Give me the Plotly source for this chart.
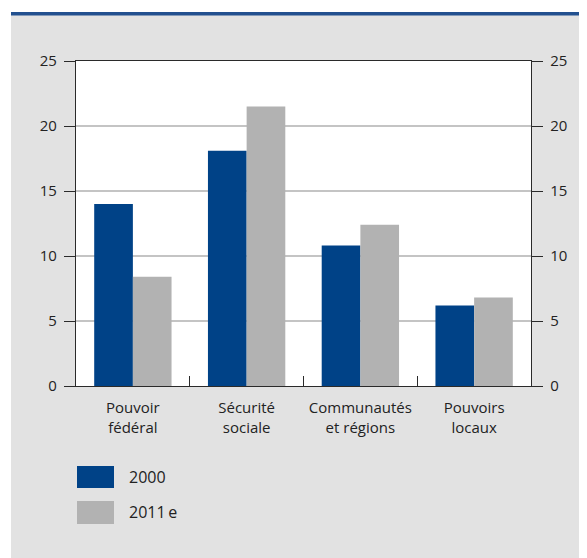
import plotly.graph_objects as go

categories = ["Pouvoir<br>fédéral", "Sécurité<br>sociale", "Communautés<br>et régions", "Pouvoirs<br>locaux"]
series_names = ["2000", "2011\u2009e"]
values_2000 = [14.0, 18.1, 10.8, 6.2]
values_2011 = [8.4, 21.5, 12.4, 6.8]
y_ticks = [0, 5, 10, 15, 20, 25]

BLUE = "#004287"
GREY = "#b2b2b2"
BG = "#e2e2e2"
AX = "#2a2a2a"
FONT = "Open Sans"

fig = go.Figure()
fig.add_trace(go.Bar(x=categories, y=values_2000, name=series_names[0], marker_color=BLUE,
                     marker_line_width=0, hoverinfo="skip"))
fig.add_trace(go.Bar(x=categories, y=values_2011, name=series_names[1], marker_color=GREY,
                     marker_line_width=0, hoverinfo="skip"))
# invisible trace to activate right axis
fig.add_trace(go.Scatter(x=categories, y=values_2000, yaxis="y2", mode="none",
                         showlegend=False, hoverinfo="skip"))

O = 8  # browser body margin
W, H = 587 - O, 558 - O
L, R, T, B = 76 - O, 531 - O, 61 - O, 386 - O

def px(x):
    return (x - O - L) / (R - L)

def py(y):
    return (B - (y - O)) / (B - T)

shapes = [
    dict(type="rect", xref="paper", yref="paper", x0=px(0), x1=px(11), y0=py(560), y1=py(0),
         fillcolor="white", line_width=0, layer="above"),
    dict(type="rect", xref="paper", yref="paper", x0=px(0), x1=px(590), y0=py(12), y1=py(0),
         fillcolor="white", line_width=0, layer="above"),
    dict(type="rect", xref="paper", yref="paper", x0=px(11), x1=px(590), y0=py(15.5), y1=py(12),
         fillcolor="#22508f", line_width=0, layer="above"),
    dict(type="rect", xref="paper", yref="paper", x0=px(77), x1=px(114), y0=py(488), y1=py(466),
         fillcolor=BLUE, line_width=0, layer="above"),
    dict(type="rect", xref="paper", yref="paper", x0=px(77), x1=px(114), y0=py(524), y1=py(501),
         fillcolor=GREY, line_width=0, layer="above"),
]
annotations = [
    dict(xref="paper", yref="paper", x=px(127), y=py(477), text=series_names[0], showarrow=False,
         xanchor="left", yanchor="middle", font=dict(family=FONT, size=16, color="#222")),
    dict(xref="paper", yref="paper", x=px(127), y=py(512), text=series_names[1], showarrow=False,
         xanchor="left", yanchor="middle", font=dict(family=FONT, size=16, color="#222")),
]

tf = dict(family=FONT, size=15, color="#222")
fig.update_layout(
    width=W, height=H,
    margin=dict(l=L, r=W - R, t=T, b=H - B),
    paper_bgcolor=BG, plot_bgcolor="white",
    barmode="group", bargap=0.32, bargroupgap=0,
    showlegend=False,
    font=dict(family=FONT, size=15, color="#222"),
    shapes=shapes, annotations=annotations,
    xaxis=dict(type="category", showline=True, linecolor=AX, linewidth=1.3, mirror=True,
               ticks="inside", tickson="boundaries", ticklen=10, tickcolor=AX, tickwidth=1.3,
               showgrid=False, tickfont=tf, ticklabelstandoff=8),
    yaxis=dict(range=[0, 25], tickvals=y_ticks, showline=True, linecolor=AX, linewidth=1.3,
               ticks="outside", ticklen=11, tickcolor=AX, tickwidth=1.3,
               showgrid=True, gridcolor="#c4c4c4", gridwidth=1.5, zeroline=False,
               tickfont=tf, ticklabelstandoff=4),
    yaxis2=dict(range=[0, 25], tickvals=y_ticks, overlaying="y", side="right", showline=True,
                linecolor=AX, linewidth=1.3, ticks="outside", ticklen=11, tickcolor=AX, tickwidth=1.3,
                showgrid=False, zeroline=False, tickfont=tf, ticklabelstandoff=4),
)

fig.write_html("out.html")
